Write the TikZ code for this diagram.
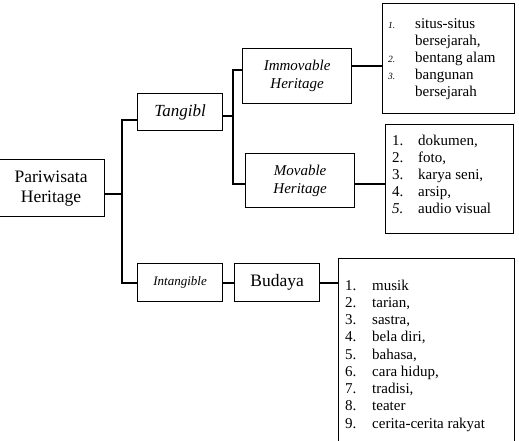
\documentclass[tikz,border=0pt]{standalone}
\usepackage{fontspec}
\setmainfont{Liberation Serif}
\newcommand{\smallnum}[1]{{\fontsize{9.5}{17}\selectfont\itshape #1}}
\begin{document}
\begin{tikzpicture}[x=1pt,y=1pt,
  box/.style={draw=black,line width=1.2pt,inner sep=0pt,anchor=north west,align=center},
  conn/.style={draw=black,line width=2pt},
  lst/.style={inner sep=0pt,anchor=base west,align=left}]
\useasboundingbox (0,0) rectangle (519,440);
% boxes
\node[box,minimum width=107pt,minimum height=57pt,font=\fontsize{17.5}{20}\selectfont] (P) at (-3,281)
  {Pariwisata\\Heritage};
\node[box,minimum width=85pt,minimum height=37pt,font=\fontsize{17}{20}\selectfont\itshape] (T) at (137,347)
  {Tangibl};
\node[box,minimum width=109pt,minimum height=55pt,font=\fontsize{15}{18}\selectfont\itshape] (Imm) at (242,392)
  {Immovable\\Heritage};
\node[box,minimum width=109pt,minimum height=54pt,font=\fontsize{15}{18}\selectfont\itshape] (Mov) at (245,287)
  {Movable\\Heritage};
\node[box,minimum width=132pt,minimum height=110pt] (ImmL) at (382,437) {};
\node[box,minimum width=128pt,minimum height=109pt] (MovL) at (385,316) {};
\node[box,minimum width=85pt,minimum height=38pt,font=\fontsize{13}{16}\selectfont\itshape] (Int) at (137,177)
  {Intangible};
\node[box,minimum width=85pt,minimum height=38pt,font=\fontsize{17.5}{20}\selectfont] (Bud) at (234,177)
  {Budaya};
\node[box,minimum width=176pt,minimum height=220pt] (BudL) at (338,182) {};
% list texts
\node[lst] (ImmLt) at (388,411) {\fontsize{15}{17}\selectfont
  \begin{tabular}[t]{@{}p{27pt}@{}l@{}}
  \smallnum{1.} & situs-situs\\
   & bersejarah,\\
  \smallnum{2.} & bentang alam\\
  \smallnum{3.} & bangunan\\
   & bersejarah
  \end{tabular}};
\node[lst] (MovLt) at (392,295) {\fontsize{15}{17}\selectfont
  \begin{tabular}[t]{@{}p{26pt}@{}l@{}}
  1. & dokumen,\\
  2. & foto,\\
  3. & karya seni,\\
  4. & arsip,\\
  \textit{5.} & audio visual
  \end{tabular}};
\node[lst] (BudLt) at (345,150) {\fontsize{15}{17.25}\selectfont
  \begin{tabular}[t]{@{}p{27pt}@{}l@{}}
  1. & musik\\
  2. & tarian,\\
  3. & sastra,\\
  4. & bela diri,\\
  5. & bahasa,\\
  6. & cara hidup,\\
  7. & tradisi,\\
  8. & teater\\
  9. & cerita-cerita rakyat
  \end{tabular}};
% connectors
\coordinate (trunk) at (122,0);
\coordinate (br) at (233,0);
\coordinate (pe) at ([yshift=-5.5pt]P.east);
\coordinate (tw) at ([yshift=-8pt]T.west);
\coordinate (te) at ([yshift=-4pt]T.east);
\coordinate (iw) at ([yshift=6.5pt]Imm.west);
\coordinate (mw) at ([yshift=-3pt]Mov.west);
\coordinate (ie) at ([yshift=10.5pt]Imm.east);
\coordinate (me) at ([yshift=-3pt]Mov.east);
\draw[conn] (pe) -- (pe -| trunk);
\draw[conn] (tw) -| (trunk |- Int.west) -- (Int.west);
\draw[conn] (te) -- (te -| br);
\draw[conn] (iw) -| (br |- mw) -- (mw);
\draw[conn] (ie) -- (ie -| ImmL.west);
\draw[conn] (me) -- (me -| MovL.west);
\draw[conn] (Int.east) -- (Bud.west);
\draw[conn] (Bud.east) -- (Bud.east -| BudL.west);
\end{tikzpicture}
\end{document}
